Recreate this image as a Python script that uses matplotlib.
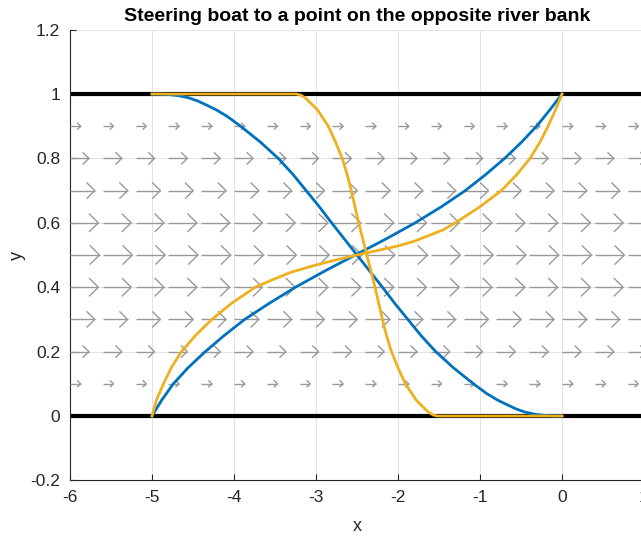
import matplotlib
matplotlib.use("Agg")
import matplotlib.pyplot as plt
from matplotlib.collections import LineCollection
import numpy as np

plt.rcParams['font.family'] = ['Liberation Sans', 'DejaVu Sans']

# river banks
bank_y = [0, 1]

# current field (relative to the middle row)
flow_x = np.linspace(-6, 0.8, 18)
flow_y = [0.1, 0.2, 0.3, 0.4, 0.5, 0.6, 0.7, 0.8, 0.9]
flow_speed = [0.36, 0.64, 0.84, 0.96, 1.0, 0.96, 0.84, 0.64, 0.36]

# boat paths (blue)
blue_up_y = [0.0, 0.05, 0.1, 0.15, 0.2, 0.25, 0.3, 0.35, 0.4, 0.45, 0.5,
             0.55, 0.6, 0.65, 0.7, 0.75, 0.8, 0.85, 0.9, 0.95, 1.0]
blue_up_x = [-5.0, -4.88, -4.74, -4.56, -4.35, -4.12, -3.87, -3.57, -3.25, -2.895, -2.52,
             -2.145, -1.79, -1.47, -1.18, -0.93, -0.70, -0.495, -0.31, -0.15, 0.0]
blue_down_y = [1.0, 0.999, 0.995, 0.988, 0.978, 0.965, 0.95, 0.93, 0.9, 0.85, 0.8,
               0.75, 0.7, 0.65, 0.6, 0.55, 0.5, 0.45, 0.4, 0.35, 0.3, 0.25, 0.2,
               0.15, 0.1, 0.07, 0.05, 0.035, 0.022, 0.012, 0.005, 0.001, 0.0]
blue_down_x = [-5.0, -4.82, -4.68, -4.55, -4.44, -4.33, -4.21, -4.08, -3.92, -3.675, -3.46,
               -3.28, -3.12, -2.96, -2.81, -2.655, -2.5, -2.345, -2.19, -2.04, -1.88, -1.72, -1.54,
               -1.325, -1.08, -0.92, -0.79, -0.67, -0.56, -0.45, -0.32, -0.18, 0.0]

# boat paths (orange)
orange_up_x = [-5.0, -4.945, -4.86, -4.765, -4.64, -4.47, -4.27, -4.03, -3.74, -3.56,
               -3.3, -3.0, -2.75, -2.5, -2.25, -2.0, -1.8, -1.61, -1.45, -1.30,
               -1.0, -0.74, -0.55, -0.39, -0.27, -0.17, -0.08, 0.0]
orange_up_y = [0.0, 0.05, 0.1, 0.15, 0.2, 0.25, 0.3, 0.35, 0.4, 0.42,
               0.447, 0.469, 0.485, 0.5, 0.514, 0.528, 0.543, 0.562, 0.578, 0.6,
               0.65, 0.7, 0.75, 0.8, 0.85, 0.9, 0.95, 1.0]
orange_down_x = [-5.0, -3.24, -3.19, -3.13, -3.03, -2.98, -2.85, -2.76, -2.68, -2.62, -2.57,
                 -2.48, -2.38, -2.28, -2.19, -2.14, -2.08, -2.00, -1.91, -1.78, -1.73,
                 -1.63, -1.57, -1.52, 0.0]
orange_down_y = [1.0, 1.0, 0.997, 0.988, 0.963, 0.95, 0.9, 0.85, 0.8, 0.75, 0.7,
                 0.6, 0.5, 0.4, 0.3, 0.25, 0.2, 0.15, 0.1, 0.05, 0.037,
                 0.012, 0.003, 0.0, 0.0]

x_ticks = [-6, -5, -4, -3, -2, -1, 0, 1]
x_ticklabels = ['-6', '-5', '-4', '-3', '-2', '-1', '0', '1']
y_ticks = [-0.2, 0, 0.2, 0.4, 0.6, 0.8, 1.0, 1.2]
y_ticklabels = ['-0.2', '0', '0.2', '0.4', '0.6', '0.8', '1', '1.2']

fig = plt.figure(figsize=(6.41, 5.38), dpi=100)
ax = fig.add_axes([70 / 641, 57.6 / 538, 574 / 641, 450.8 / 538])

# banks
for yb in bank_y:
    ax.axhline(yb, color='black', linewidth=3, zorder=2)

# quiver-like arrows with open heads (matlab style)
spacing = flow_x[1] - flow_x[0]
scale = 0.9 * spacing / max(flow_speed)
alpha, beta = 0.33, 0.25
segs = []
for yv, sp in zip(flow_y, flow_speed):
    u = sp * scale
    for xv in flow_x:
        tip = (xv + u, yv)
        segs.append([(xv, yv), tip])
        segs.append([(xv + u - alpha * u, yv + alpha * beta * u), tip,
                     (xv + u - alpha * u, yv - alpha * beta * u)])
ax.add_collection(LineCollection(segs, colors='#999999', linewidths=1.0, zorder=3))

blue = '#0072BD'
orange = '#EDB120'
ax.plot(blue_up_x, blue_up_y, color=blue, linewidth=2, zorder=4, solid_joinstyle='round')
ax.plot(blue_down_x, blue_down_y, color=blue, linewidth=2, zorder=4, solid_joinstyle='round')
ax.plot(orange_up_x, orange_up_y, color=orange, linewidth=2, zorder=5, solid_joinstyle='round')
ax.plot(orange_down_x, orange_down_y, color=orange, linewidth=2, zorder=5, solid_joinstyle='round')

ax.set_xlim(-6, 1)
ax.set_ylim(-0.2, 1.2)
ax.set_xticks(x_ticks)
ax.set_xticklabels(x_ticklabels)
ax.set_yticks(y_ticks)
ax.set_yticklabels(y_ticklabels)
ax.grid(True, color='#dedede', linewidth=0.6)
ax.set_axisbelow(True)

for side in ['top', 'right']:
    ax.spines[side].set_visible(False)
for side in ['left', 'bottom']:
    ax.spines[side].set_color('#262626')
    ax.spines[side].set_linewidth(0.8)
ax.tick_params(direction='in', length=4.5, width=0.8, color='#262626',
               labelcolor='#262626', labelsize=12.5, pad=7)

ax.set_xlabel('x', fontsize=13, color='#262626', labelpad=9)
ax.set_ylabel('y', fontsize=13, color='#262626', labelpad=3)
ax.set_title('Steering boat to a point on the opposite river bank',
             fontsize=14, fontweight='bold', color='black', pad=6)

fig.savefig('out.png', dpi=100)
